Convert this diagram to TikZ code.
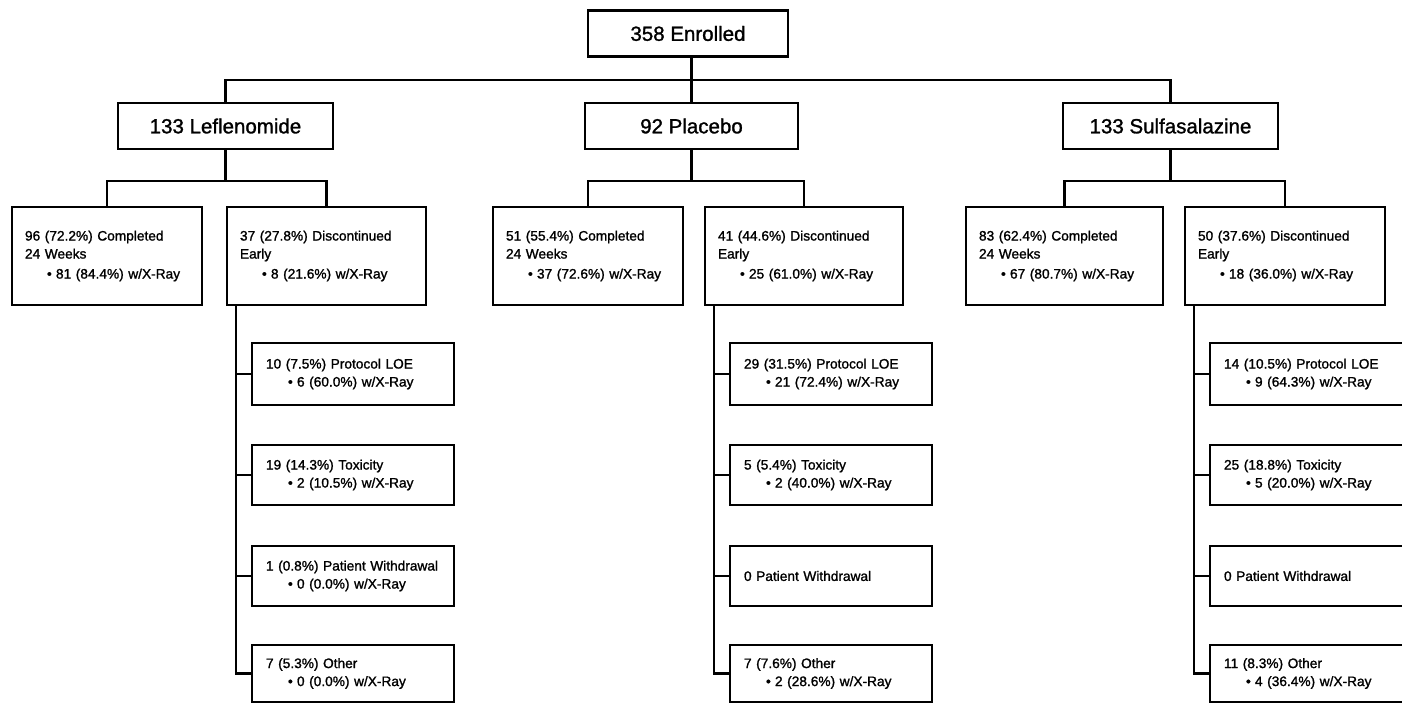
\documentclass[tikz,border=0pt]{standalone}
\usepackage{fontspec}
\setmainfont{Liberation Sans}
\newfontfamily\scanfont{Liberation Sans}[UprightFeatures={FakeBold=1.3}]
\usetikzlibrary{calc}
\newcommand{\bulx}{\hspace*{22pt}\makebox[9pt][l]{\textbullet}}
\newcommand{\nohyph}{\hyphenpenalty=10000\relax}
\begin{document}
\begin{tikzpicture}[x=1pt,y=-1pt,
  box/.style={draw, line width=2.4pt, rectangle, inner sep=0pt},
  big/.style={box, font=\scanfont\fontsize{20.5}{24}\selectfont, minimum height=46pt, minimum width=#1},
  sm/.style={box, font=\scanfont\fontsize{13.7}{18}\selectfont\nohyph, align=left, inner xsep=13pt},
  lvthree/.style 2 args={sm, minimum width=#1, text width=#2, minimum height=98pt},
  lvfour/.style={sm, inner xsep=14pt, minimum width=202pt, text width=174pt, minimum height=#1},
  conn/.style={line width=2.2pt}]
\useasboundingbox (0,0) rectangle (1402,704);
\clip (0,0) rectangle (1402,704);

% level 1 and 2
\node[big=200pt] (enr) at (688,33.5) {358 Enrolled};
\node[big=215pt] (lef) at (225.5,126) {133 Leflenomide};
\node[big=213pt] (pla) at (691.5,126) {92 Placebo};
\node[big=215pt] (sul) at (1170.5,126) {133 Sulfasalazine};

% level 3
\node[lvthree={190pt}{164pt}] (lc) at (107,256) {96 (72.2\%) Completed\\24 Weeks\\[2pt]\bulx 81 (84.4\%) w/X-Ray};
\node[lvthree={199pt}{173pt}] (ld) at (326.5,256) {37 (27.8\%) Discontinued\\Early\\[2pt]\bulx 8 (21.6\%) w/X-Ray};
\node[lvthree={190pt}{164pt}] (pc) at (588,256) {51 (55.4\%) Completed\\24 Weeks\\[2pt]\bulx 37 (72.6\%) w/X-Ray};
\node[lvthree={198pt}{172pt}] (pd) at (804,256) {41 (44.6\%) Discontinued\\Early\\[2pt]\bulx 25 (61.0\%) w/X-Ray};
\node[lvthree={197pt}{171pt}] (sc) at (1064.5,256) {83 (62.4\%) Completed\\24 Weeks\\[2pt]\bulx 67 (80.7\%) w/X-Ray};
\node[lvthree={200pt}{174pt}] (sd) at (1285,256) {50 (37.6\%) Discontinued\\Early\\[2pt]\bulx 18 (36.0\%) w/X-Ray};

% level 4 - Leflenomide
\node[lvfour=62pt] (l1) at (353,374) {10 (7.5\%) Protocol LOE\\\bulx 6 (60.0\%) w/X-Ray};
\node[lvfour=60pt] (l2) at (353,475) {19 (14.3\%) Toxicity\\\bulx 2 (10.5\%) w/X-Ray};
\node[lvfour=60pt] (l3) at (353,576) {1 (0.8\%) Patient Withdrawal\\\bulx 0 (0.0\%) w/X-Ray};
\node[lvfour=57pt] (l4) at (353,673.5) {7 (5.3\%) Other\\\bulx 0 (0.0\%) w/X-Ray};
% level 4 - Placebo
\node[lvfour=62pt] (p1) at (831,374) {29 (31.5\%) Protocol LOE\\\bulx 21 (72.4\%) w/X-Ray};
\node[lvfour=60pt] (p2) at (831,475) {5 (5.4\%) Toxicity\\\bulx 2 (40.0\%) w/X-Ray};
\node[lvfour=60pt] (p3) at (831,576) {0 Patient Withdrawal};
\node[lvfour=57pt] (p4) at (831,673.5) {7 (7.6\%) Other\\\bulx 2 (28.6\%) w/X-Ray};
% level 4 - Sulfasalazine
\node[lvfour=62pt] (s1) at (1311,374) {14 (10.5\%) Protocol LOE\\\bulx 9 (64.3\%) w/X-Ray};
\node[lvfour=60pt] (s2) at (1311,475) {25 (18.8\%) Toxicity\\\bulx 5 (20.0\%) w/X-Ray};
\node[lvfour=60pt] (s3) at (1311,576) {0 Patient Withdrawal};
\node[lvfour=57pt] (s4) at (1311,673.5) {11 (8.3\%) Other\\\bulx 4 (36.4\%) w/X-Ray};

% connectors top
\coordinate (bus) at (691.5,80);
\draw[conn] (enr.south -| pla.north) -- (pla.north);
\draw[conn] (lef.north) |- (bus) -| (sul.north);

% level 3 brackets
\coordinate (lb) at (225.5,181);
\coordinate (pb) at (691.5,181);
\coordinate (sb) at (1170.5,181);
\draw[conn] (lef.south) -- (lb);
\draw[conn] (lc.north) |- (lb) -| (ld.north);
\draw[conn] (pla.south) -- (pb);
\draw[conn] (pc.north) |- (pb) -| (pd.north);
\draw[conn] (sul.south) -- (sb);
\draw[conn] (sc.north) |- (sb) -| (sd.north);

% level 4 spines
\coordinate (lv) at ($(ld.south west)+(10,0)$);
\coordinate (pv) at ($(pd.south west)+(10,0)$);
\coordinate (sv) at ($(sd.south west)+(10,0)$);
\draw[conn] (lv) |- (l4.west);
\draw[conn] (lv |- l1.west) -- (l1.west);
\draw[conn] (lv |- l2.west) -- (l2.west);
\draw[conn] (lv |- l3.west) -- (l3.west);
\draw[conn] (pv) |- (p4.west);
\draw[conn] (pv |- p1.west) -- (p1.west);
\draw[conn] (pv |- p2.west) -- (p2.west);
\draw[conn] (pv |- p3.west) -- (p3.west);
\draw[conn] (sv) |- (s4.west);
\draw[conn] (sv |- s1.west) -- (s1.west);
\draw[conn] (sv |- s2.west) -- (s2.west);
\draw[conn] (sv |- s3.west) -- (s3.west);
\end{tikzpicture}
\end{document}
